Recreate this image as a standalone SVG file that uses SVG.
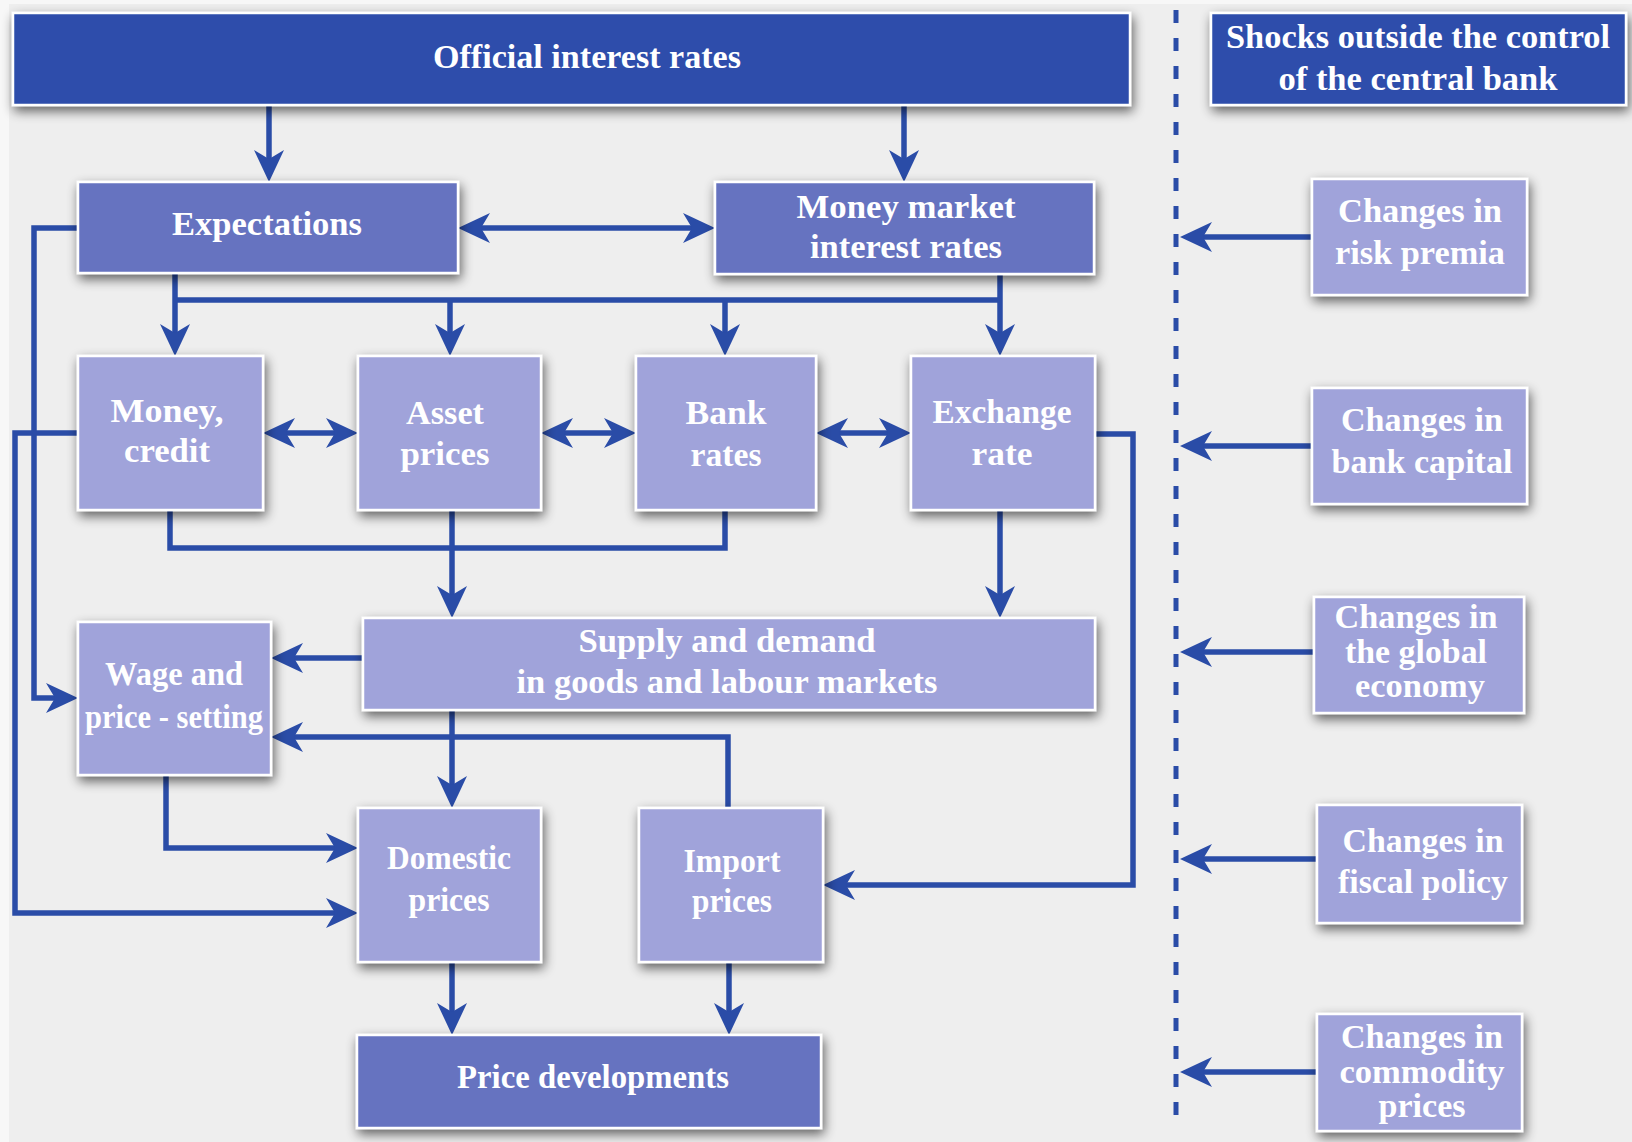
<svg xmlns="http://www.w3.org/2000/svg" width="1632" height="1142" viewBox="0 0 1632 1142">
  <defs>
    <style>
      .box { stroke: #ffffff; stroke-width: 2.5; filter: url(#shadow); }
      .dark { fill: #2d4eab; }
      .mid { fill: #6673c0; }
      .light { fill: #a0a3da; }
      .lbl { font-family: "Liberation Serif", "Times New Roman", serif; font-weight: bold; font-size: 33px; fill: #ffffff; text-anchor: middle; }
      .conn { fill: none; stroke: #2a4ca7; stroke-width: 5.5; stroke-linejoin: miter; }
      .arr { marker-end: url(#head); }
      .both { marker-start: url(#head); marker-end: url(#head); }
      .divider { fill: none; stroke: #2a4ca7; stroke-width: 5; stroke-dasharray: 13 15; }
    </style>
    <filter id="shadow" x="-20%" y="-30%" width="140%" height="170%">
      <feGaussianBlur in="SourceAlpha" stdDeviation="6"/>
      <feOffset dx="2" dy="5" result="blur"/>
      <feComponentTransfer><feFuncA type="linear" slope="0.6"/></feComponentTransfer>
      <feMerge><feMergeNode/><feMergeNode in="SourceGraphic"/></feMerge>
    </filter>
    <marker id="head" viewBox="0 0 32 30" refX="22" refY="15" markerWidth="32" markerHeight="30" markerUnits="userSpaceOnUse" orient="auto-start-reverse">
      <path d="M32,15 L0,0 L9,15 L0,30 Z" fill="#2a4ca7"/>
    </marker>
  </defs>

  <rect x="0" y="0" width="1632" height="1142" fill="#f7f7f7"/>
  <rect x="9" y="4" width="1623" height="1138" fill="#eeeeee"/>

  <!-- divider between policy side and external shocks -->
  <line class="divider" x1="1176" y1="10" x2="1176" y2="1130"/>

  <g id="connectors">
    <path class="conn arr" d="M269,105 V172"/>
    <path class="conn arr" d="M904,105 V172"/>
    <path class="conn both" d="M468,228 H705"/>
    <path class="conn" d="M175,300 H1000"/>
    <path class="conn arr" d="M175,273 V346"/>
    <path class="conn arr" d="M1000,274 V346"/>
    <path class="conn arr" d="M450,300 V346"/>
    <path class="conn arr" d="M725,300 V346"/>
    <path class="conn both" d="M273,433 H348"/>
    <path class="conn both" d="M551,433 H626"/>
    <path class="conn both" d="M826,433 H901"/>
    <path class="conn" d="M170,510 V548 H725 V510"/>
    <path class="conn arr" d="M452,510 V608"/>
    <path class="conn arr" d="M1000,510 V608"/>
    <path class="conn arr" d="M1095,434 H1133 V885 H833"/>
    <path class="conn arr" d="M78,228 H34 V698 H68"/>
    <path class="conn arr" d="M78,433 H15 V913 H348"/>
    <path class="conn arr" d="M363,658 H281"/>
    <path class="conn arr" d="M452,710 V798"/>
    <path class="conn arr" d="M728,808 V737 H281"/>
    <path class="conn arr" d="M166,775 V848 H348"/>
    <path class="conn arr" d="M452,962 V1025"/>
    <path class="conn arr" d="M729,962 V1025"/>
    <path class="conn arr" d="M1312,237 H1190"/>
    <path class="conn arr" d="M1312,446 H1190"/>
    <path class="conn arr" d="M1314,652 H1190"/>
    <path class="conn arr" d="M1317,859 H1190"/>
    <path class="conn arr" d="M1317,1072 H1190"/>
  </g>

  <g id="official">
    <rect class="box dark" x="13" y="13" width="1117" height="92"/>
    <text class="lbl" x="587" y="68" textLength="308" lengthAdjust="spacingAndGlyphs">Official interest rates</text>
  </g>
  <g id="shocks">
    <rect class="box dark" x="1211" y="13" width="415" height="92"/>
    <text class="lbl" x="1418" y="48" textLength="384" lengthAdjust="spacingAndGlyphs">Shocks outside the control</text>
    <text class="lbl" x="1418" y="90" textLength="279" lengthAdjust="spacingAndGlyphs">of the central bank</text>
  </g>
  <g id="expectations">
    <rect class="box mid" x="78" y="182" width="380" height="91"/>
    <text class="lbl" x="267" y="235" textLength="190" lengthAdjust="spacingAndGlyphs">Expectations</text>
  </g>
  <g id="money-market">
    <rect class="box mid" x="715" y="182" width="379" height="92"/>
    <text class="lbl" x="906" y="218" textLength="219" lengthAdjust="spacingAndGlyphs">Money market</text>
    <text class="lbl" x="906" y="258" textLength="192" lengthAdjust="spacingAndGlyphs">interest rates</text>
  </g>
  <g id="money-credit">
    <rect class="box light" x="78" y="356" width="185" height="154"/>
    <text class="lbl" x="167" y="422" textLength="113" lengthAdjust="spacingAndGlyphs">Money,</text>
    <text class="lbl" x="167" y="462" textLength="86" lengthAdjust="spacingAndGlyphs">credit</text>
  </g>
  <g id="asset-prices">
    <rect class="box light" x="358" y="356" width="183" height="154"/>
    <text class="lbl" x="445" y="424" textLength="78" lengthAdjust="spacingAndGlyphs">Asset</text>
    <text class="lbl" x="445" y="465" textLength="89" lengthAdjust="spacingAndGlyphs">prices</text>
  </g>
  <g id="bank-rates">
    <rect class="box light" x="636" y="356" width="180" height="154"/>
    <text class="lbl" x="726" y="424" textLength="81" lengthAdjust="spacingAndGlyphs">Bank</text>
    <text class="lbl" x="726" y="466" textLength="71" lengthAdjust="spacingAndGlyphs">rates</text>
  </g>
  <g id="exchange-rate">
    <rect class="box light" x="911" y="356" width="184" height="154"/>
    <text class="lbl" x="1002" y="423" textLength="139" lengthAdjust="spacingAndGlyphs">Exchange</text>
    <text class="lbl" x="1002" y="465" textLength="61" lengthAdjust="spacingAndGlyphs">rate</text>
  </g>
  <g id="wage-price-setting">
    <rect class="box light" x="78" y="622" width="193" height="153"/>
    <text class="lbl" x="174" y="685" textLength="138" lengthAdjust="spacingAndGlyphs">Wage and</text>
    <text class="lbl" x="174" y="728" textLength="178" lengthAdjust="spacingAndGlyphs">price - setting</text>
  </g>
  <g id="supply-demand">
    <rect class="box light" x="363" y="618" width="732" height="92"/>
    <text class="lbl" x="727" y="652" textLength="297" lengthAdjust="spacingAndGlyphs">Supply and demand</text>
    <text class="lbl" x="727" y="693" textLength="421" lengthAdjust="spacingAndGlyphs">in goods and labour markets</text>
  </g>
  <g id="domestic-prices">
    <rect class="box light" x="358" y="808" width="183" height="154"/>
    <text class="lbl" x="449" y="869" textLength="124" lengthAdjust="spacingAndGlyphs">Domestic</text>
    <text class="lbl" x="449" y="911" textLength="81" lengthAdjust="spacingAndGlyphs">prices</text>
  </g>
  <g id="import-prices">
    <rect class="box light" x="639" y="808" width="184" height="154"/>
    <text class="lbl" x="732" y="872" textLength="97" lengthAdjust="spacingAndGlyphs">Import</text>
    <text class="lbl" x="732" y="912" textLength="80" lengthAdjust="spacingAndGlyphs">prices</text>
  </g>
  <g id="price-developments">
    <rect class="box mid" x="357" y="1035" width="464" height="93"/>
    <text class="lbl" x="593" y="1088" textLength="272" lengthAdjust="spacingAndGlyphs">Price developments</text>
  </g>

  <g id="risk-premia">
    <rect class="box light" x="1312" y="179" width="215" height="116"/>
    <text class="lbl" x="1420" y="222" textLength="164" lengthAdjust="spacingAndGlyphs">Changes in</text>
    <text class="lbl" x="1420" y="264" textLength="170" lengthAdjust="spacingAndGlyphs">risk premia</text>
  </g>
  <g id="bank-capital">
    <rect class="box light" x="1312" y="388" width="215" height="116"/>
    <text class="lbl" x="1422" y="431" textLength="162" lengthAdjust="spacingAndGlyphs">Changes in</text>
    <text class="lbl" x="1422" y="473" textLength="181" lengthAdjust="spacingAndGlyphs">bank capital</text>
  </g>
  <g id="global-economy">
    <rect class="box light" x="1314" y="597" width="210" height="116"/>
    <text class="lbl" x="1416" y="628" textLength="163" lengthAdjust="spacingAndGlyphs">Changes in</text>
    <text class="lbl" x="1416" y="663" textLength="142" lengthAdjust="spacingAndGlyphs">the global</text>
    <text class="lbl" x="1420" y="697" textLength="130" lengthAdjust="spacingAndGlyphs">economy</text>
  </g>
  <g id="fiscal-policy">
    <rect class="box light" x="1317" y="805" width="205" height="118"/>
    <text class="lbl" x="1423" y="852" textLength="161" lengthAdjust="spacingAndGlyphs">Changes in</text>
    <text class="lbl" x="1423" y="893" textLength="170" lengthAdjust="spacingAndGlyphs">fiscal policy</text>
  </g>
  <g id="commodity-prices">
    <rect class="box light" x="1317" y="1014" width="205" height="117"/>
    <text class="lbl" x="1422" y="1048" textLength="162" lengthAdjust="spacingAndGlyphs">Changes in</text>
    <text class="lbl" x="1422" y="1083" textLength="165" lengthAdjust="spacingAndGlyphs">commodity</text>
    <text class="lbl" x="1422" y="1117" textLength="87" lengthAdjust="spacingAndGlyphs">prices</text>
  </g>
</svg>
